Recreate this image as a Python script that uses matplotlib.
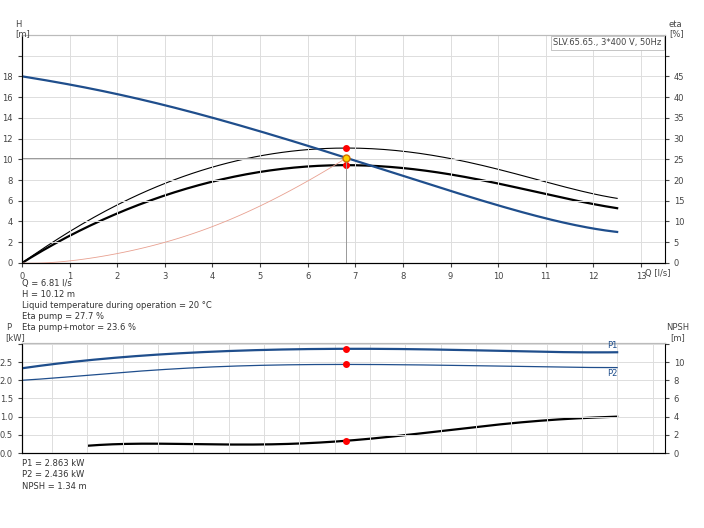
import matplotlib
matplotlib.use("Agg")
import matplotlib.pyplot as plt
import numpy as np

q_h = [0, 1, 2, 3, 4, 5, 6, 6.81, 7, 8, 9, 10, 11, 12, 12.5]
h = [18, 17.2, 16.3, 15.2, 14.0, 12.7, 11.3, 10.12, 9.9, 8.4, 6.9, 5.6, 4.3, 3.3, 3.0]
eta_p = [0, 7.5, 14, 19.3, 23, 25.8, 27.3, 27.7, 27.7, 27.0, 25.2, 22.5, 19.5, 16.8, 15.5]
eta_pm = [0, 6.5, 12, 16.3, 19.5, 22, 23.3, 23.6, 23.5, 22.9, 21.3, 19.2, 16.6, 14.2, 13.2]
q_sys = [0, 1, 2, 3, 4, 5, 6, 6.81]
h_sys = [0, 0.2, 0.9, 2.0, 3.5, 5.5, 7.9, 10.12]
q_p = [0, 1, 2, 3, 4, 5, 6, 6.81, 8, 9, 10, 11, 12, 12.5]
p1 = [2.33, 2.5, 2.62, 2.72, 2.79, 2.83, 2.86, 2.863, 2.86, 2.84, 2.81, 2.78, 2.77, 2.77]
p2 = [2.0, 2.1, 2.2, 2.3, 2.37, 2.41, 2.43, 2.436, 2.43, 2.41, 2.39, 2.37, 2.35, 2.35]
q_n = [1.4, 2, 3, 4, 5, 6, 6.81, 8, 9, 10, 11, 12, 12.5]
npsh = [0.8, 1.0, 1.0, 0.95, 0.95, 1.1, 1.34, 1.9, 2.6, 3.1, 3.6, 3.9, 4.0]
q_op, h_op, e1_op, e2_op = 6.81, 10.12, 27.7, 23.6

def smooth(x, y, n=200):
    xs = np.linspace(min(x), max(x), n)
    c = np.polyfit(x, y, min(6, len(x) - 1))
    return xs, np.polyval(c, xs)

blue = "#1f4e8c"
fig = plt.figure(figsize=(7.04, 5.28), dpi=100)
xmax = 13.5
ax = fig.add_axes([0.03125, 0.502, 0.913, 0.432])
ax2 = ax.twinx()
for a in (ax, ax2):
    a.set_xlim(0, xmax)
ax.set_ylim(0, 22)
ax2.set_ylim(0, 55)
ax.set_xticks(range(0, 14))
ax.set_yticks(range(0, 22, 2))
ax.set_yticklabels([str(v) if v < 20 else "" for v in range(0, 22, 2)])
ax2.set_yticks(range(0, 55, 5))
ax2.set_yticklabels([str(v) if v < 50 else "" for v in range(0, 55, 5)])
ax.grid(True, color="#dddddd", lw=0.7)
ax.tick_params(labelsize=6, colors="#444444", length=3)
ax2.tick_params(labelsize=6, colors="#444444", length=3)
for a in (ax, ax2):
    a.spines["top"].set_color("#bbbbbb")
    a.spines["right"].set_visible(False)
ax2.spines["right"].set_visible(True)
ax.set_zorder(2); ax.patch.set_visible(False)

ax.plot(*smooth(q_h, h), color=blue, lw=1.6)
ax2.plot(*smooth(q_h, eta_p), color="black", lw=0.8)
ax2.plot(*smooth(q_h, eta_pm), color="black", lw=1.6)
ax.plot(*smooth(q_sys, h_sys, 100), color="#e8a090", lw=0.6)
ax.plot([0, q_op], [h_op, h_op], color="#999999", lw=0.7)
ax.plot([q_op, q_op], [0, h_op], color="#999999", lw=0.7)
ax2.plot([q_op, q_op], [e1_op, e2_op], "o", color="red", ms=4, zorder=5)
ax.plot([q_op], [h_op], "o", color="#ffd000", mec="#d07000", ms=5, zorder=6)
fig.text(0.022, 0.945, "H\n[m]", fontsize=6, ha="left", va="center", color="#444444", linespacing=1.1)
fig.text(0.95, 0.945, "eta\n[%]", fontsize=6, ha="left", va="center", color="#444444", linespacing=1.1)
ax.text(13.62, -0.55, "Q [l/s]", fontsize=6, ha="right", va="top", color="#444444", transform=ax.transData)
ax.text(0.995, 0.985, "SLV.65.65., 3*400 V, 50Hz", transform=ax.transAxes, fontsize=6,
        ha="right", va="top", color="#444444",
        bbox=dict(facecolor="white", edgecolor="#bbbbbb", lw=0.6, pad=2))
fig.text(0.031, 0.472, "Q = 6.81 l/s\nH = 10.12 m\nLiquid temperature during operation = 20 °C\nEta pump = 27.7 %\nEta pump+motor = 23.6 %",
         fontsize=6, va="top", color="#333333", linespacing=1.3)

bx = fig.add_axes([0.03125, 0.142, 0.913, 0.208])
bx2 = bx.twinx()
for a in (bx, bx2):
    a.set_xlim(0, xmax)
bx.set_ylim(0, 3.02)
bx2.set_ylim(0, 12.08)
pt = np.arange(0, 3.01, 0.5)
bx.set_yticks(pt)
bx.set_yticklabels([f"{v:.1f}" if v < 2.9 else "" for v in pt])
bx2.set_yticks(range(0, 13, 2))
bx2.set_yticklabels([str(v) if v < 11 else "" for v in range(0, 13, 2)])
bx.set_xticks(np.arange(0.63, xmax, 0.742))
bx.set_xticklabels([])
bx.grid(True, color="#dddddd", lw=0.7)
bx.tick_params(labelsize=6, colors="#444444", length=3)
bx.tick_params(axis="x", length=0)
bx2.tick_params(labelsize=6, colors="#444444", length=3)
bx.spines["top"].set_color("#bbbbbb"); bx2.spines["top"].set_color("#bbbbbb")
bx.spines["right"].set_visible(False)
bx.set_zorder(2); bx.patch.set_visible(False)
bx.plot(*smooth(q_p, p1), color=blue, lw=1.6)
bx.plot(*smooth(q_p, p2), color=blue, lw=0.9)
bx2.plot(*smooth(q_n, npsh), color="black", lw=1.6)
bx.plot([q_op, q_op], [2.863, 2.436], "o", color="red", ms=4, zorder=5)
bx2.plot([q_op], [1.34], "o", color="red", ms=4, zorder=5)
bx.text(12.4, 2.83, "P1", fontsize=6, color=blue, ha="center", va="bottom")
bx.text(12.4, 2.30, "P2", fontsize=6, color=blue, ha="center", va="top")
fig.text(0.008, 0.37, "P\n[kW]", fontsize=6, ha="left", va="center", color="#444444", linespacing=1.1)
fig.text(0.962, 0.37, "NPSH\n[m]", fontsize=6, ha="center", va="center", color="#444444", linespacing=1.1)
fig.text(0.031, 0.13, "P1 = 2.863 kW\nP2 = 2.436 kW\nNPSH = 1.34 m", fontsize=6, va="top",
         color="#333333", linespacing=1.3)
fig.savefig("out.png", dpi=100)
